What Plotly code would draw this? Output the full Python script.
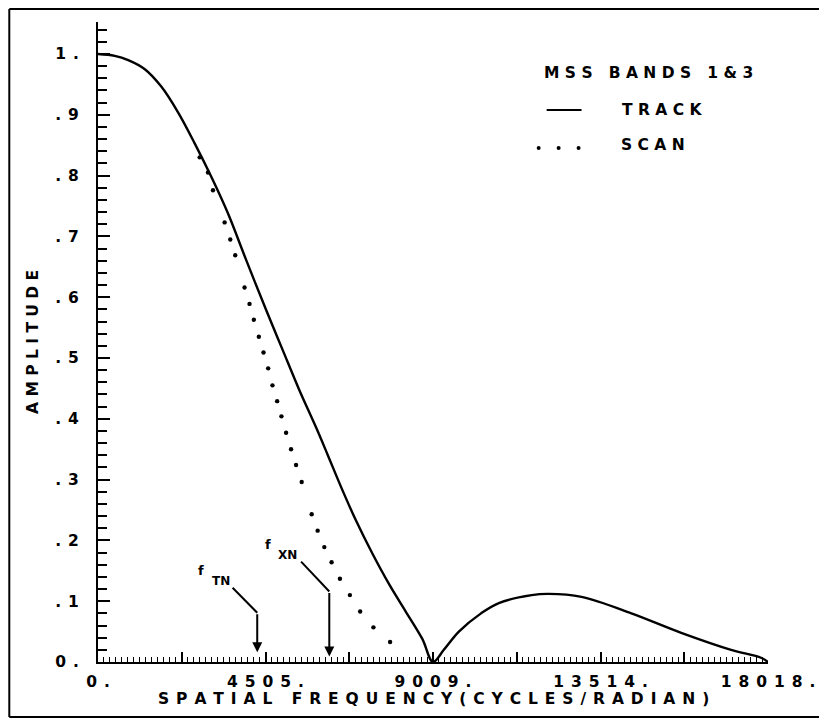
import plotly.graph_objects as go

# ---- data ----
track_freq = [0, 450, 813, 1260, 1707, 2153, 2600, 3047, 3494, 3986, 4522, 4968,
              5416, 5863, 6175, 6550, 6935, 7382, 7828, 8276, 8722, 9009,
              9300, 9705, 10300, 10778, 11663, 12119, 13004, 14344, 15685, 17025, 17829, 18018]
track_amp = [1.000, 0.997, 0.990, 0.975, 0.946, 0.904, 0.853, 0.798, 0.738, 0.661, 0.579, 0.513,
             0.447, 0.386, 0.341, 0.286, 0.233, 0.178, 0.128, 0.083, 0.038, 0.000,
             0.020, 0.050, 0.080, 0.097, 0.110, 0.112, 0.107, 0.080, 0.048, 0.020, 0.007, 0.000]

scan_freq = [2735, 2958, 3092, 3405, 3557, 3691, 3941, 4075, 4191, 4325, 4451, 4576, 4692,
             4818, 4933, 5058, 5192, 5326, 5478, 5746, 5907, 6086, 6282, 6506, 6774,
             7050, 7407, 7855]
scan_amp = [0.830, 0.805, 0.776, 0.723, 0.695, 0.669, 0.616, 0.589, 0.563, 0.535, 0.509, 0.483, 0.455,
            0.429, 0.404, 0.377, 0.350, 0.324, 0.296, 0.243, 0.216, 0.189, 0.164, 0.137, 0.110,
            0.083, 0.057, 0.033]

x_tick_vals = [0, 2252.25, 4504.5, 6756.75, 9009, 11261.25, 13513.5, 15765.75, 18018]
x_tick_text = ["0.", "", "4505.", "", "9009.", "", "13514.", "", "18018."]
y_tick_vals = [0, 0.1, 0.2, 0.3, 0.4, 0.5, 0.6, 0.7, 0.8, 0.9, 1.0]
y_tick_text = ["0.", ".1", ".2", ".3", ".4", ".5", ".6", ".7", ".8", ".9", "1."]

# Nyquist marker frequencies
f_tn = 4282
f_xn = 6220

NB = "\u00a0"
WIDE = "\u00a0\u200a"


def spaced(s, sep=NB):
    return sep.join(list(s.replace(" ", NB)))


FONT = dict(family="DejaVu Sans", size=15.5, color="black", weight="bold")

fig = go.Figure()
fig.add_trace(go.Scatter(x=track_freq, y=track_amp, mode="lines",
                         line=dict(color="black", width=2.4), line_shape="spline",
                         showlegend=False, hoverinfo="skip"))
fig.add_trace(go.Scatter(x=scan_freq, y=scan_amp, mode="markers",
                         marker=dict(color="black", size=4.4), showlegend=False, hoverinfo="skip"))

# page has an 8px body margin: figure placed at (8,8)
fig.update_layout(
    width=819, height=711,
    margin=dict(l=90, r=57, t=14, b=57),
    paper_bgcolor="white", plot_bgcolor="white",
    showlegend=False,
    xaxis=dict(range=[0, 18018], showgrid=False, zeroline=False,
               showline=True, linecolor="black", linewidth=2,
               ticks="inside", ticklen=10, tickwidth=1.6, tickcolor="black",
               tickmode="array", tickvals=x_tick_vals,
               ticktext=[spaced(t, WIDE) for t in x_tick_text],
               tickfont=FONT, ticklabelstandoff=4,
               minor=dict(dtick=18018 / 112, tick0=0, ticks="inside", ticklen=5,
                          tickwidth=1.2, tickcolor="black", showgrid=False)),
    yaxis=dict(range=[0, 1.0526], showgrid=False, zeroline=False,
               showline=True, linecolor="black", linewidth=2,
               ticks="inside", ticklen=12, tickwidth=1.8, tickcolor="black",
               tickmode="array", tickvals=y_tick_vals,
               ticktext=[spaced(t, WIDE) for t in y_tick_text],
               tickfont=FONT, ticklabelstandoff=14,
               minor=dict(dtick=0.02, tick0=0, ticks="inside", ticklen=9,
                          tickwidth=1.6, tickcolor="black", showgrid=False)),
)

ann = []
# axis titles
ann.append(dict(text=spaced("SPATIAL FREQUENCY(CYCLES/RADIAN)", WIDE), xref="paper", yref="paper",
                x=0.5, y=0, xanchor="center", yanchor="middle", yshift=-37,
                showarrow=False, font=FONT))
ann.append(dict(text=spaced("AMPLITUDE"), xref="paper", yref="paper", textangle=-90,
                x=0, y=0.5, xanchor="center", yanchor="middle", xshift=-65,
                showarrow=False, font=FONT))
# legend
ann.append(dict(text=spaced("MSS BANDS 1&3"), xref="paper", yref="paper",
                x=0.8214, y=0.9203, xanchor="center", yanchor="middle", showarrow=False, font=FONT))
ann.append(dict(text=spaced("TRACK"), xref="paper", yref="paper",
                x=0.8423, y=0.8625, xanchor="center", yanchor="middle", showarrow=False, font=FONT))
ann.append(dict(text=spaced("SCAN"), xref="paper", yref="paper",
                x=0.8289, y=0.8078, xanchor="center", yanchor="middle", showarrow=False, font=FONT))

SMALL = dict(family="DejaVu Sans", size=12, color="black", weight="bold")
FSYM = dict(family="DejaVu Sans", size=13, color="black", weight="bold")
# f_TN label and leader
ann.append(dict(text="f", x=2780, y=0.151, xref="x", yref="y", xanchor="center",
                yanchor="middle", showarrow=False, font=FSYM))
ann.append(dict(text="TN", x=3300, y=0.133, xref="x", yref="y", xanchor="center",
                yanchor="middle", showarrow=False, font=SMALL))
ann.append(dict(text="", x=f_tn, y=0.016, ax=f_tn, ay=0.081, xref="x", yref="y",
                axref="x", ayref="y", showarrow=True, arrowhead=2, arrowsize=1.0,
                arrowwidth=2, arrowcolor="black"))
# f_XN label and leader
ann.append(dict(text="f", x=4585, y=0.194, xref="x", yref="y", xanchor="center",
                yanchor="middle", showarrow=False, font=FSYM))
ann.append(dict(text="XN", x=5094, y=0.176, xref="x", yref="y", xanchor="center",
                yanchor="middle", showarrow=False, font=SMALL))
ann.append(dict(text="", x=f_xn, y=0.009, ax=f_xn, ay=0.116, xref="x", yref="y",
                axref="x", ayref="y", showarrow=True, arrowhead=2, arrowsize=1.0,
                arrowwidth=2, arrowcolor="black"))
fig.update_layout(annotations=ann)

shapes = []
# leader diagonals
shapes.append(dict(type="line", xref="x", yref="y", x0=3620, y0=0.122, x1=f_tn, y1=0.081,
                   line=dict(color="black", width=2)))
shapes.append(dict(type="line", xref="x", yref="y", x0=5462, y0=0.165, x1=f_xn, y1=0.116,
                   line=dict(color="black", width=2)))
# legend samples
shapes.append(dict(type="line", xref="paper", yref="paper", x0=0.6696, x1=0.7217,
                   y0=0.8625, y1=0.8625, line=dict(color="black", width=2.2)))
for px in [0.6577, 0.6875, 0.7173]:
    shapes.append(dict(type="circle", xref="paper", yref="paper", xsizemode="pixel",
                       ysizemode="pixel", xanchor=px, yanchor=0.8031,
                       x0=-2, x1=2, y0=-2, y1=2, fillcolor="black", line=dict(width=0)))
# outer frame
shapes.append(dict(type="line", xref="paper", yref="paper", x0=-0.1324, x1=1.2,
                   y0=1.0203, y1=1.0203, line=dict(color="black", width=2)))
shapes.append(dict(type="line", xref="paper", yref="paper", x0=-0.1324, x1=-0.1324,
                   y0=-0.0859, y1=1.0203, line=dict(color="black", width=2)))
shapes.append(dict(type="line", xref="paper", yref="paper", x0=-0.1324, x1=1.2,
                   y0=-0.0859, y1=-0.0859, line=dict(color="black", width=2)))
fig.update_layout(shapes=shapes)

fig.write_html("out.html")
